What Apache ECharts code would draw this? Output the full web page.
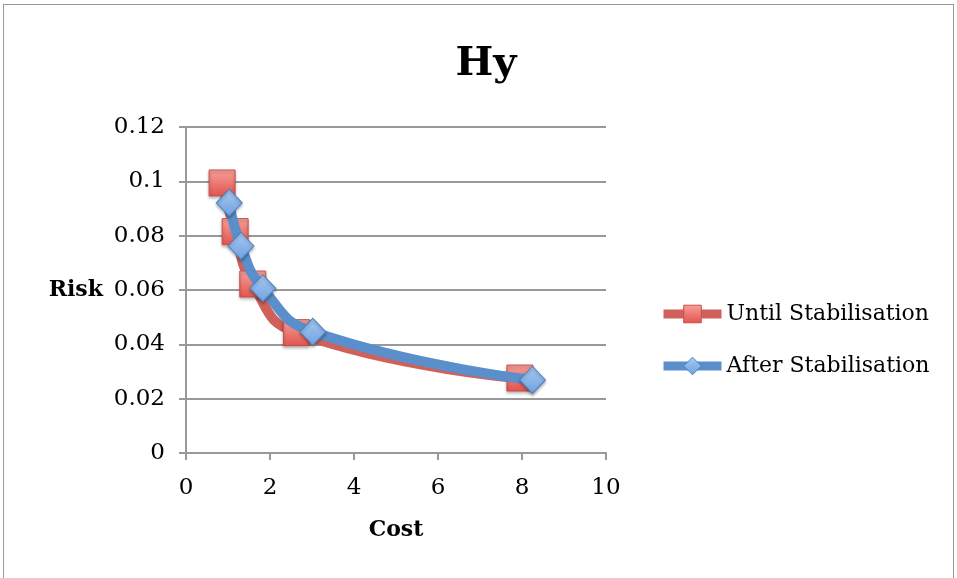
<!DOCTYPE html>
<html><head><meta charset="utf-8">
<script src="https://cdn.jsdelivr.net/npm/echarts@6/dist/echarts.min.js"></script>
<style>html,body{margin:0;padding:0;background:#fff}#c{width:957px;height:578px}
#frame{position:absolute;left:3px;top:4px;width:951px;height:590px;border:1.5px solid #999;box-sizing:border-box;pointer-events:none}</style>
</head><body><div id="c"></div><div id="frame"></div>
<script>
const titleText = 'Hy';
const xName = 'Cost';
const yName = 'Risk';
const untilName = 'Until Stabilisation';
const afterName = 'After Stabilisation';
const untilCost = [0.86, 1.17, 1.59, 2.63, 7.95];
const untilRisk = [0.0994, 0.0815, 0.0622, 0.0443, 0.0276];
const afterCost = [1.03, 1.31, 1.83, 3.02, 8.25];
const afterRisk = [0.0921, 0.0762, 0.0606, 0.0446, 0.0269];

const font = 'DejaVu Serif, Liberation Serif, serif';
const chart = echarts.init(document.getElementById('c'));
const grad = (top, bot) => new echarts.graphic.LinearGradient(0,0,0,1,[{offset:0,color:top},{offset:1,color:bot}]);
const redItem = {color:grad('#f7a09a','#e0544d'),borderColor:'#c7524c',borderWidth:1,shadowColor:'rgba(0,0,0,0.3)',shadowBlur:3,shadowOffsetY:2};
const blueItem = {color:grad('#a8cbf3','#6ea0de'),borderColor:'#4e82c2',borderWidth:1,shadowColor:'rgba(0,0,0,0.3)',shadowBlur:3,shadowOffsetY:2};
chart.setOption({
  animation:false,
  title:{text:titleText,left:481,textAlign:'center',top:40,textStyle:{fontFamily:font,fontWeight:'bold',fontSize:40,color:'#000'}},
  grid:{left:186,right:351,top:127,bottom:125},
  legend:{orient:'vertical',left:659,top:303,padding:0,itemGap:30,itemWidth:58,itemHeight:22,
    textStyle:{fontFamily:font,fontSize:22,color:'#000'},
    data:[
      {name:untilName,itemStyle:{color:grad('#f7a09a','#e0544d'),borderColor:'#c7524c',borderWidth:1},lineStyle:{color:'#d0605a',width:9}},
      {name:afterName,itemStyle:{color:grad('#a8cbf3','#6ea0de'),borderColor:'#4e82c2',borderWidth:1},lineStyle:{color:'#5b8fcc',width:9}}
    ]},
  xAxis:{type:'value',min:0,max:10,interval:2,name:xName,nameLocation:'middle',nameGap:66,
    nameTextStyle:{fontFamily:font,fontWeight:'bold',fontSize:22,color:'#000'},
    axisLine:{lineStyle:{color:'#999',width:2}},axisTick:{show:true,length:7,lineStyle:{color:'#999',width:2}},
    axisLabel:{fontFamily:font,fontSize:23,color:'#000',margin:24},splitLine:{show:false}},
  yAxis:{type:'value',min:0,max:0.12,interval:0.02,name:yName,nameLocation:'middle',nameGap:83,nameRotate:0,
    nameTextStyle:{fontFamily:font,fontWeight:'bold',fontSize:22,color:'#000'},
    axisLine:{show:true,lineStyle:{color:'#999',width:2}},axisTick:{show:true,length:7,lineStyle:{color:'#999',width:2}},
    axisLabel:{fontFamily:font,fontSize:23,color:'#000',margin:21},splitLine:{lineStyle:{color:'#999',width:2}}},
  series:[
    {name:untilName,type:'line',smooth:0.5,data:untilCost.map((x,i)=>[x,untilRisk[i]]),
     symbol:'rect',symbolSize:26,lineStyle:{color:'#d0605a',width:10},itemStyle:redItem,z:2},
    {name:afterName,type:'line',smooth:0.5,data:afterCost.map((x,i)=>[x,afterRisk[i]]),
     symbol:'diamond',symbolSize:[26,27],lineStyle:{color:'#5b8fcc',width:10},itemStyle:blueItem,z:3}
  ]
});
</script></body></html>
